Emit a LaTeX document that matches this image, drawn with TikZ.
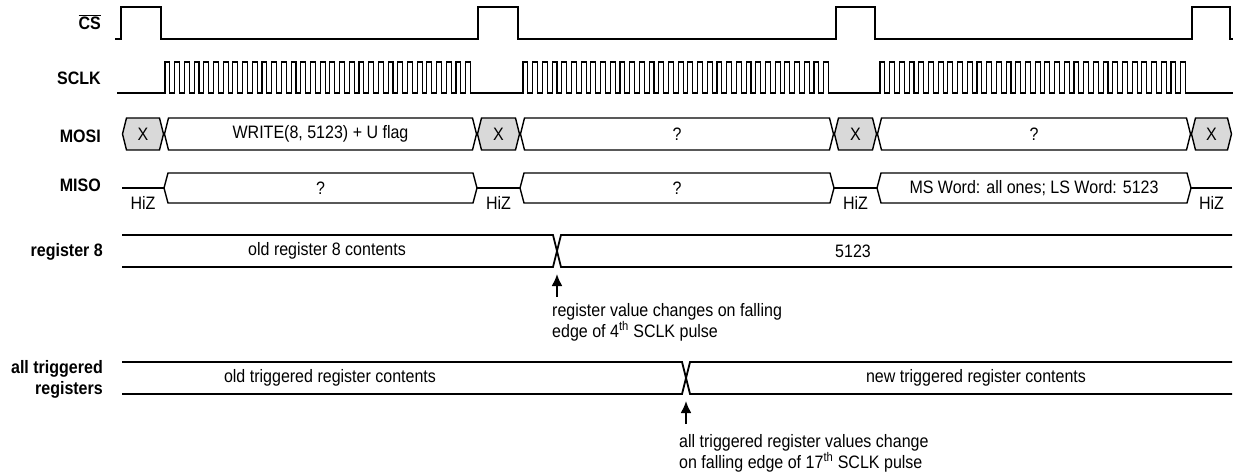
\documentclass[tikz,border=0pt]{standalone}
\usepackage{fontspec}
\setmainfont{Liberation Sans}[FakeStretch=0.89]
\usetikzlibrary{arrows.meta}
\definecolor{xgray}{HTML}{D9D9D9}

\begin{document}
\begin{tikzpicture}[x=1pt,y=-1pt,
    every node/.style={font=\fontsize{18}{21}\selectfont,inner sep=0pt},
    siglabel/.style={anchor=east,align=right,font=\fontsize{18}{21}\selectfont\bfseries},
    wave/.style={line width=1.5pt},
    clk/.style={line width=1.1pt},
    bus/.style={line width=1.4pt},
    reg/.style={line width=1.8pt},
    note/.style={anchor=west,align=left},
    pointer/.style={line width=2pt,-{Latex[length=12pt,width=11pt]}}]
  \useasboundingbox (0,0) rectangle (1233,473);

  \node[siglabel] (cslbl) at (101,22) {$\overline{\mbox{CS}}$};
  \node[siglabel] (sclklbl) at (101,78) {SCLK};
  \node[siglabel] (mosilbl) at (101,136) {MOSI};
  \node[siglabel] (misolbl) at (101,185) {MISO};
  \node[siglabel] (reglbl) at (103,252) {register 8};
  \node[siglabel] (triglbl) at (103,379) {all triggered\\registers};

  \draw[wave] (115,39) -- (121,39) -- (121,7) -- (161,7) -- (161,39) -- (478,39) -- (478,7) -- (518,7)
    -- (518,39) -- (836,39) -- (836,7) -- (875,7) -- (875,39) -- (1192,39) -- (1192,7) -- (1230,7)
    -- (1230,39) -- (1233,39);

  \draw[clk] (117,93) -- (165,93)
    \foreach \i in {1,...,32}{ -- ++(0,-31) -- ++(4.85,0) -- ++(0,31) -- ++(4.85,0)} -- (523,93)
    \foreach \i in {1,...,32}{ -- ++(0,-31) -- ++(4.85,0) -- ++(0,31) -- ++(4.85,0)} -- (880,93)
    \foreach \i in {1,...,32}{ -- ++(0,-31) -- ++(4.85,0) -- ++(0,31) -- ++(4.85,0)} -- (1233,93);

  \foreach \a/\b in {122/164,477/520,834/877,1191/1232}{
    \draw[bus,fill=xgray] (\a+0.5,134) -- (\a+4.5,118) -- (\b-4.5,118) -- (\b-0.5,134) -- (\b-4.5,150)
      -- (\a+4.5,150) -- cycle;
    \node (mosix\a) at ({(\a+\b)/2},134) {X};
  }
  \foreach \a/\b/\t in {164/477/{WRITE(8, 5123) + U flag},520/834/?,877/1191/?}{
    \draw[bus] (\a+0.5,134) -- (\a+4.5,118) -- (\b-4.5,118) -- (\b-0.5,134) -- (\b-4.5,150)
      -- (\a+4.5,150) -- cycle;
    \node (mosid\a) at ({(\a+\b)/2},134) {\t};
  }

  \foreach \a/\b in {122/164,477/520,834/877,1191/1232}{
    \draw[bus] (\a,188) -- (\b,188);
    \node (hiz\a) at ({(\a+\b)/2},203) {HiZ};
  }
  \foreach \a/\b/\t in {164/477/?,520/834/?,877/1191/{MS Word: all ones; LS Word: 5123}}{
    \draw[bus,fill=white] (\a,188) -- (\a+4,173) -- (\b-4,173) -- (\b,188) -- (\b-4,203)
      -- (\a+4,203) -- cycle;
    \node (misod\a) at ({(\a+\b)/2},188) {\t};
  }

  \draw[reg] (122,235) -- (553,235) -- (561,267) -- (1232,267);
  \draw[reg] (122,267) -- (553,267) -- (561,235) -- (1232,235);
  \node (regold) at (327,251) {old register 8 contents};
  \node (regnew) at (853,251) {5123};

  \draw[reg] (122,362) -- (682,362) -- (690,394) -- (1232,394);
  \draw[reg] (122,394) -- (682,394) -- (690,362) -- (1232,362);
  \node (trigold) at (330,378) {old triggered register contents};
  \node (trignew) at (976,378) {new triggered register contents};

  \coordinate (regx) at (557,274);
  \coordinate (regtail) at (557,297);
  \draw[pointer] (regtail) -- (regx);
  \node[note] (regnote) at (552,322) {register value changes on falling\\edge of 4\textsuperscript{th} SCLK pulse};

  \coordinate (trigx) at (686,401);
  \coordinate (trigtail) at (686,424);
  \draw[pointer] (trigtail) -- (trigx);
  \node[note] (trignote) at (679,453) {all triggered register values change\\on falling edge of 17\textsuperscript{th} SCLK pulse};
\end{tikzpicture}
\end{document}
